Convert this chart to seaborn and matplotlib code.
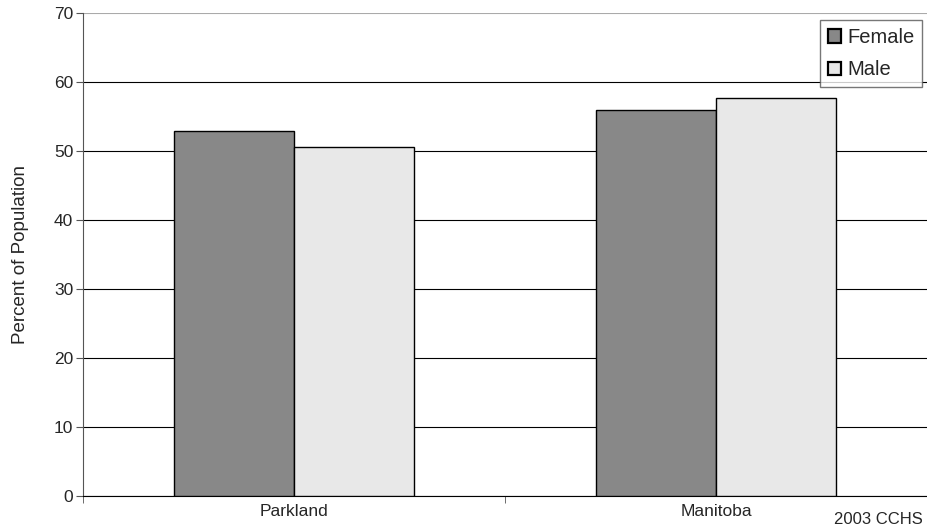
import pandas as pd
import seaborn as sns
import matplotlib.pyplot as plt
from matplotlib.ticker import FixedLocator

regions = ["Parkland", "Manitoba"]
sexes = ["Female", "Male"]
female_pct = [52.9, 56.0]
male_pct = [50.6, 57.6]
y_ticks = [0, 10, 20, 30, 40, 50, 60, 70]

df = pd.DataFrame({
    "region": regions * 2,
    "sex": ["Female"] * len(regions) + ["Male"] * len(regions),
    "pct": female_pct + male_pct,
})

sns.set_style("white")
plt.rcParams["font.family"] = ["Liberation Sans", "DejaVu Sans"]

fig = plt.figure(figsize=(9.27, 5.29), dpi=100)
ax = fig.add_axes([0.0895, 0.063, 0.9105, 0.9125])

sns.barplot(
    data=df, x="region", y="pct", hue="sex", order=regions, hue_order=sexes,
    palette=["#888888", "#e8e8e8"], width=0.569, edgecolor="black",
    linewidth=1.0, saturation=1, ax=ax, zorder=3,
)

ax.set_xlim(-0.5, 1.5)
ax.set_ylim(0, 70)
ax.set_yticks(y_ticks)
ax.yaxis.grid(True, color="black", linewidth=0.8, zorder=0)
ax.yaxis.get_gridlines()[-1].set_color("#aaaaaa")
ax.set_axisbelow(True)

for side in ["top", "right"]:
    ax.spines[side].set_visible(False)
ax.spines["left"].set_color("#555555")
ax.spines["bottom"].set_color("black")

ax.tick_params(axis="y", direction="out", length=5, color="#555555",
               labelsize=12.5, left=True, pad=2)
ax.tick_params(axis="x", which="major", length=0, labelsize=12.5, pad=6)
ax.xaxis.set_minor_locator(FixedLocator([-0.5, 0.5]))
ax.tick_params(axis="x", which="minor", direction="out", length=5,
               color="#555555", bottom=True)

ax.set_xlabel("")
ax.set_ylabel("Percent of Population", fontsize=13.5, labelpad=18)

handles, labels = ax.get_legend_handles_labels()
leg = ax.legend(handles, labels, loc="upper right", bbox_to_anchor=(0.9945, 0.985),
                fontsize=14.5, frameon=True, fancybox=False, edgecolor="#555555",
                handlelength=0.65, handleheight=0.65, handletextpad=0.3,
                borderpad=0.4, labelspacing=0.65, borderaxespad=0)
for patch in leg.get_patches():
    patch.set_linewidth(1.6)

fig.text(0.995, 0.004, "2003 CCHS", ha="right", va="bottom", fontsize=12)

fig.savefig("out.png", dpi=100)
